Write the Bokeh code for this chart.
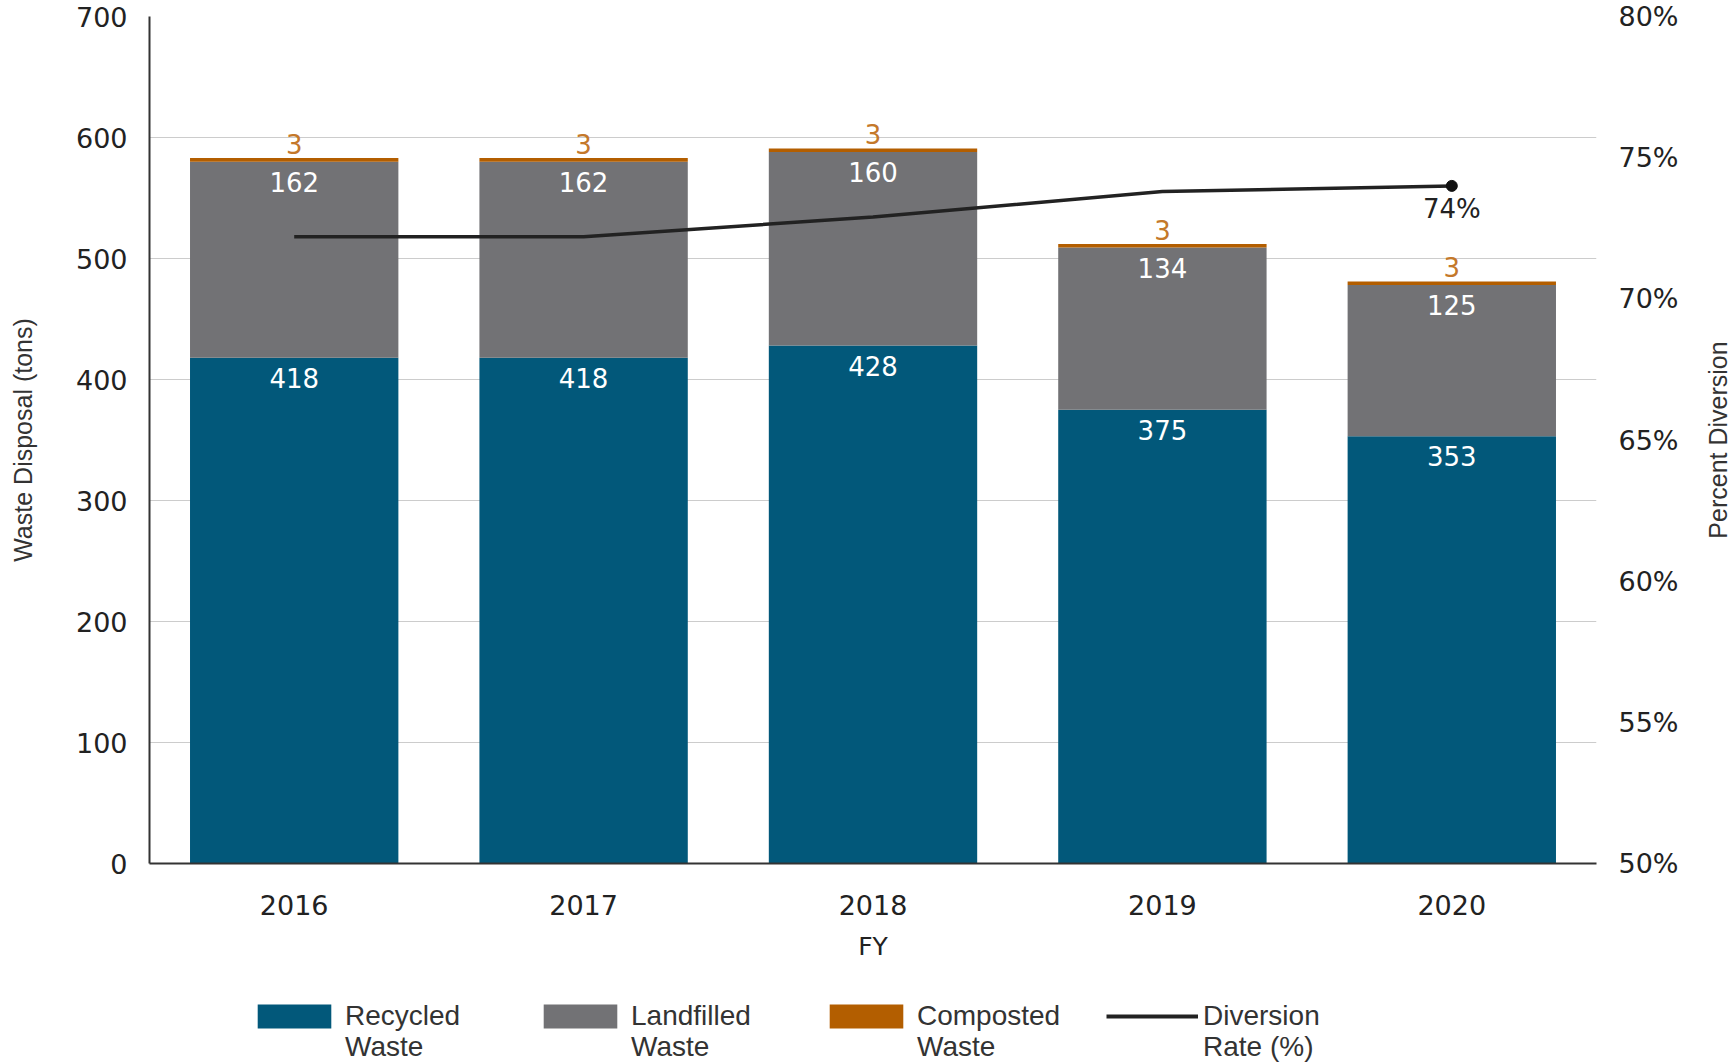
import math
from bokeh.plotting import figure
from bokeh.layouts import column, row
from bokeh.models import (ColumnDataSource, Range1d, LinearAxis, FixedTicker, Legend, LegendItem, Label)
from bokeh.core.properties import value
from bokeh.embed import file_html
from bokeh.resources import INLINE

years = ["2016", "2017", "2018", "2019", "2020"]
recycled = [418, 418, 428, 375, 353]
landfilled = [162, 162, 160, 134, 125]
composted = [3, 3, 3, 3, 3]
diversion = [72.2, 72.2, 72.9, 73.8, 74.0]
left_ticks = [0, 100, 200, 300, 400, 500, 600, 700]
right_ticks = [50, 55, 60, 65, 70, 75, 80]
legend_line1 = ["Recycled", "Landfilled", "Composted", "Diversion"]
legend_line2 = ["Waste", "Waste", "Waste", "Rate (%)"]

BLUE = "#02587a"
GRAY = "#727275"
ORANGE = "#b35e00"
LBL_ORANGE = "#c4782a"
TICK_FONT = "DejaVu Sans"
TITLE_FONT = "Liberation Sans"
LEG_FONT = "Liberation Sans"

TOP, BOTTOM = 16, 107
NAN = float("nan")

src = ColumnDataSource(dict(
    years=years, recycled=recycled, landfilled=landfilled, composted=composted,
    rec_top=[r for r in recycled],
    land_top=[r + l for r, l in zip(recycled, landfilled)],
    tot_top=[r + l + c for r, l, c in zip(recycled, landfilled, composted)],
    rec_lbl=[str(v) for v in recycled],
    land_lbl=[str(v) for v in landfilled],
    comp_lbl=[str(v) for v in composted],
))

p = figure(x_range=years, y_range=Range1d(0, 700), width=1700, height=970,
           output_backend="svg", toolbar_location=None,
           min_border_top=TOP, min_border_left=149, min_border_right=104, min_border_bottom=BOTTOM)
p.outline_line_color = None
p.extra_y_ranges = {"pct": Range1d(50, 80)}

rs = p.vbar_stack(["recycled", "landfilled", "composted"], x="years", width=0.72,
                  color=[BLUE, GRAY, ORANGE], line_color=None, source=src)

ln = p.line(x=years, y=diversion, y_range_name="pct", line_color="#222222", line_width=3.5)
p.scatter(x=[years[-1]], y=[diversion[-1]], y_range_name="pct", size=11, color="#111111")
p.text(x=[years[-1]], y=[diversion[-1]], text=[f"{round(diversion[-1])}%"], y_range_name="pct",
       y_offset=23, text_align="center", text_baseline="middle", text_font=value(TICK_FONT),
       text_font_size="26px", text_color="#222222")

p.text(x="years", y="rec_top", text="rec_lbl", source=src, y_offset=20, text_align="center",
       text_baseline="middle", text_font=value(TICK_FONT), text_font_size="26px", text_color="white")
p.text(x="years", y="land_top", text="land_lbl", source=src, y_offset=20, text_align="center",
       text_baseline="middle", text_font=value(TICK_FONT), text_font_size="26px", text_color="white")
p.text(x="years", y="tot_top", text="comp_lbl", source=src, y_offset=-14, text_align="center",
       text_baseline="middle", text_font=value(TICK_FONT), text_font_size="26px", text_color=LBL_ORANGE)

# left axis
ya = p.yaxis[0]
ya.ticker = FixedTicker(ticks=left_ticks)
ya.axis_label = "Waste Disposal (tons)"
ya.axis_label_text_font = TITLE_FONT
ya.axis_label_text_font_style = "normal"
ya.axis_label_text_font_size = "25px"
ya.axis_label_text_color = "#333333"
ya.axis_label_standoff = 36
ya.major_label_text_font = TICK_FONT
ya.major_label_text_font_size = "27px"
ya.major_label_text_color = "#222222"
ya.major_label_standoff = 22
ya.major_tick_line_color = None
ya.major_tick_out = 0
ya.major_tick_in = 0
ya.minor_tick_line_color = None
ya.axis_line_color = "#333333"
ya.axis_line_width = 2

# right axis
ra = LinearAxis(y_range_name="pct", ticker=FixedTicker(ticks=right_ticks),
                major_label_overrides={t: f"{t}%" for t in right_ticks})
ra.major_label_text_font = TICK_FONT
ra.major_label_text_font_size = "27px"
ra.major_label_text_color = "#222222"
ra.major_label_standoff = 22
ra.major_tick_line_color = None
ra.major_tick_out = 0
ra.major_tick_in = 0
ra.minor_tick_line_color = None
ra.axis_line_color = None
p.add_layout(ra, "right")

# x axis
xa = p.xaxis[0]
xa.axis_label = "FY"
xa.axis_label_text_font = TICK_FONT
xa.axis_label_text_font_style = "normal"
xa.axis_label_text_font_size = "25px"
xa.axis_label_text_color = "#222222"
xa.axis_label_standoff = 14
xa.major_label_text_font = TICK_FONT
xa.major_label_text_font_size = "27px"
xa.major_label_text_color = "#222222"
xa.major_label_standoff = 31
xa.major_tick_line_color = None
xa.major_tick_out = 0
xa.major_tick_in = 0
xa.axis_line_color = "#333333"
xa.axis_line_width = 2

p.xgrid.grid_line_color = None
p.ygrid.grid_line_color = "#cccccc"
p.ygrid.grid_line_width = 1

# right-hand axis title (reads bottom-to-top), in a narrow companion figure
pt = figure(width=34, height=970, x_range=Range1d(0, 1), y_range=Range1d(50, 80),
            x_axis_type=None, y_axis_type=None, output_backend="svg", toolbar_location=None,
            min_border_top=TOP, min_border_bottom=BOTTOM, min_border_left=0, min_border_right=0)
pt.outline_line_color = None
pt.grid.grid_line_color = None
pt.add_layout(Label(x=0.5, y=65, text="Percent Diversion", angle=math.pi / 2,
                    text_align="center", text_baseline="middle", text_font=TITLE_FONT,
                    text_font_size="25px", text_color="#333333"))

# legend in a strip below
pl = figure(width=1734, height=94, x_range=Range1d(0, 1), y_range=Range1d(0, 1),
            x_axis_type=None, y_axis_type=None, output_backend="svg", toolbar_location=None,
            min_border=0)
pl.outline_line_color = None
pl.grid.grid_line_color = None
g1 = pl.vbar(x=[NAN], top=[NAN], width=0.5, color=BLUE, line_color=None)
g2 = pl.vbar(x=[NAN], top=[NAN], width=0.5, color=GRAY, line_color=None)
g3 = pl.vbar(x=[NAN], top=[NAN], width=0.5, color=ORANGE, line_color=None)
g4 = pl.line(x=[NAN, NAN], y=[NAN, NAN], line_color="#222222", line_width=4)
gh = pl.vbar(x=[NAN], top=[NAN], width=0.5, fill_alpha=0, line_alpha=0)


def style_legend(lg):
    lg.glyph_width = 92
    lg.glyph_height = 30
    lg.label_width = 189
    lg.label_height = 30
    lg.spacing = 0
    lg.label_standoff = 5
    lg.label_text_font = LEG_FONT
    lg.label_text_font_size = "28px"
    lg.label_text_color = "#333333"
    lg.border_line_color = None
    lg.background_fill_alpha = 0
    lg.margin = 0
    lg.padding = 0


leg1 = Legend(items=[LegendItem(label=t, renderers=[g]) for t, g in zip(legend_line1, [g1, g2, g3, g4])],
              orientation="horizontal", location=(248, 32))
leg2 = Legend(items=[LegendItem(label=t, renderers=[gh]) for t in legend_line2],
              orientation="horizontal", location=(248, 1))
style_legend(leg1)
style_legend(leg2)
pl.add_layout(leg1, "center")
pl.add_layout(leg2, "center")

layout = column(row(p, pt), pl)
open("out.html", "w").write(file_html(layout, INLINE))
